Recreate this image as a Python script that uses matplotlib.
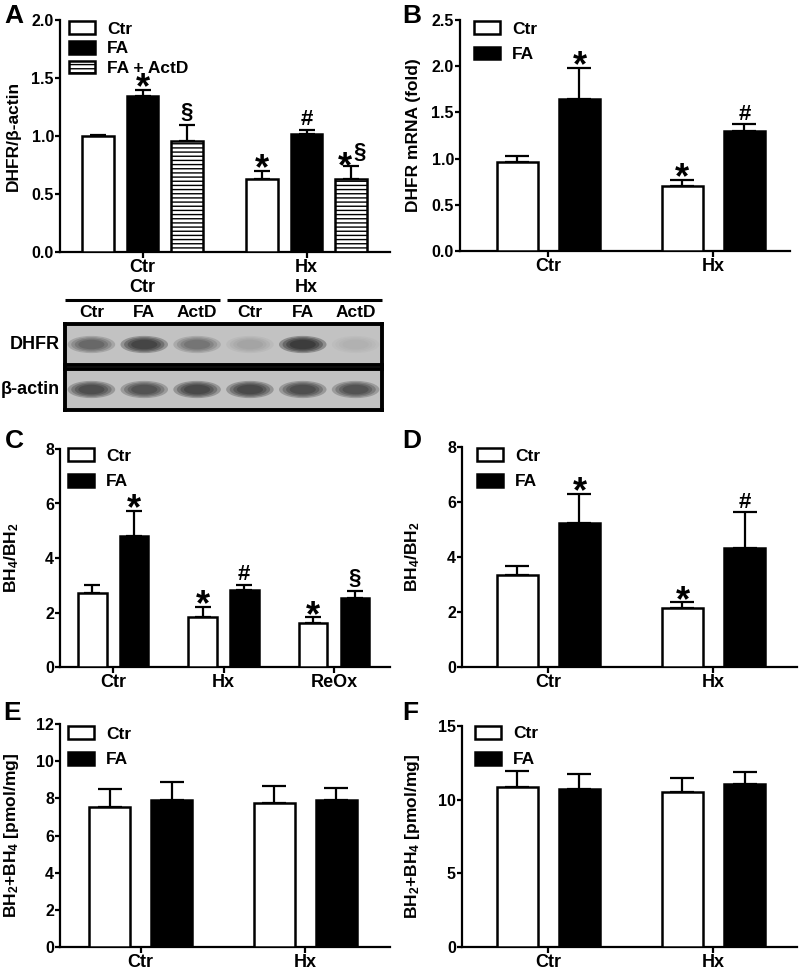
import matplotlib.pyplot as plt
from matplotlib.patches import Patch, Ellipse
from matplotlib.transforms import blended_transform_factory
import numpy as np

plt.rcParams['font.family'] = ['Liberation Sans', 'DejaVu Sans']
plt.rcParams['font.weight'] = 'bold'
plt.rcParams['axes.labelweight'] = 'bold'
plt.rcParams['mathtext.fontset'] = 'custom'
plt.rcParams['mathtext.rm'] = 'Liberation Sans:bold'
plt.rcParams['mathtext.default'] = 'rm'
plt.rcParams['hatch.linewidth'] = 1.0
plt.rcParams['axes.linewidth'] = 1.6

W, H = 800, 972

# --- A: DHFR protein (western blot densitometry)
a_groups = ['Ctr\nCtr', 'Hx\nHx']
a_ctr = [1.00, 0.63]
a_ctr_err = [0.01, 0.07]
a_fa = [1.345, 1.015]
a_fa_err = [0.055, 0.035]
a_actd = [0.96, 0.63]
a_actd_err = [0.135, 0.11]
a_ctr_sig = ['', '*']
a_fa_sig = ['*', '#']
a_actd_sig = ['§', '*§']

# blot lanes
lanes = ['Ctr', 'FA', 'ActD', 'Ctr', 'FA', 'ActD']
dhfr_band = [0.55, 0.9, 0.45, 0.15, 1.0, 0.08]
actin_band = [0.8, 0.75, 0.85, 0.85, 0.8, 0.75]

# --- B: DHFR mRNA
b_groups = ['Ctr', 'Hx']
b_ctr = [0.965, 0.70]
b_ctr_err = [0.065, 0.07]
b_fa = [1.64, 1.30]
b_fa_err = [0.34, 0.07]
b_ctr_sig = ['', '*']
b_fa_sig = ['*', '#']

# --- C: BH4/BH2 (Ctr, Hx, ReOx)
c_groups = ['Ctr', 'Hx', 'ReOx']
c_ctr = [2.70, 1.84, 1.62]
c_ctr_err = [0.30, 0.37, 0.20]
c_fa = [4.79, 2.82, 2.54]
c_fa_err = [0.95, 0.18, 0.25]
c_ctr_sig = ['', '*', '*']
c_fa_sig = ['*', '#', '§']

# --- D: BH4/BH2
d_groups = ['Ctr', 'Hx']
d_ctr = [3.36, 2.15]
d_ctr_err = [0.30, 0.20]
d_fa = [5.24, 4.33]
d_fa_err = [1.06, 1.29]
d_ctr_sig = ['', '*']
d_fa_sig = ['*', '#']

# --- E / F: total biopterin
e_groups = ['Ctr', 'Hx']
e_ctr = [7.52, 7.73]
e_ctr_err = [0.97, 0.96]
e_fa = [7.91, 7.91]
e_fa_err = [0.96, 0.63]

f_groups = ['Ctr', 'Hx']
f_ctr = [10.84, 10.54]
f_ctr_err = [1.09, 0.91]
f_fa = [10.73, 11.07]
f_fa_err = [0.99, 0.81]

fig = plt.figure(figsize=(8, 9.72), dpi=100)


def px_axes(l, r, t, b):
    return fig.add_axes([l / W, 1 - b / H, (r - l) / W, (b - t) / H])


def sig_text(ax, x, top, s, dx=0, dy=0):
    # marker sits a few pixels above the error cap
    if s == '*':
        ax.annotate(s, (x, top), xytext=(dx, -6.0 + dy), textcoords='offset points',
                    ha='center', va='baseline', fontsize=26)
    elif s:
        ax.annotate(s, (x, top), xytext=(dx, (5.0 if s == '§' else 3.5) + dy),
                    textcoords='offset points', ha='center', va='baseline', fontsize=16)


def bar_panel(ax, groups, series, offsets, width, ymax, step, xlim, capsize):
    x = np.arange(len(groups))
    for (vals, errs, sigs, face, hatch), off in zip(series, offsets):
        ax.errorbar(x + off, vals, yerr=[np.zeros(len(vals)), errs], fmt='none',
                    ecolor='black', elinewidth=1.6, capsize=capsize, capthick=1.6, zorder=2)
        ax.bar(x + off, vals, width, color=face, edgecolor='black', linewidth=1.8,
               hatch=hatch, zorder=3)
        for xi, v, e, s in zip(x + off, vals, errs, sigs):
            if s == '*§':
                sig_text(ax, xi, v + e, '*', dx=-4, dy=-2)
                sig_text(ax, xi, v + e, '§', dx=6, dy=1)
            else:
                sig_text(ax, xi, v + e, s)
    ax.set_xlim(*xlim)
    ax.set_ylim(0, ymax)
    ax.set_yticks(np.arange(0, ymax + step / 2, step))
    ax.set_xticks(x)
    ax.set_xticklabels(groups, fontsize=13, linespacing=1.2)
    ax.spines['top'].set_visible(False)
    ax.spines['right'].set_visible(False)
    ax.tick_params(axis='y', direction='out', length=3.6, width=1.6, pad=0.8, labelsize=11.5)
    ax.tick_params(axis='x', direction='out', length=4.5, width=1.6, pad=0.5)


def legend(ax, labels, faces, hatches, anchor, spacing):
    handles = [Patch(facecolor=f, edgecolor='black', linewidth=1.8, hatch=h)
               for f, h in zip(faces, hatches)]
    ax.legend(handles, labels, loc='upper left', bbox_to_anchor=anchor, frameon=False,
              fontsize=12.5, handlelength=1.5, handleheight=0.75, handletextpad=0.7,
              labelspacing=spacing, borderpad=0, borderaxespad=0)


# panel A
axA = px_axes(60, 390, 20, 252)
bar_panel(axA, a_groups,
          [(a_ctr, a_ctr_err, a_ctr_sig, 'white', None),
           (a_fa, a_fa_err, a_fa_sig, 'black', None),
           (a_actd, a_actd_err, a_actd_sig, 'white', '----')],
          [-0.271, 0, 0.271], 0.19, 2.0, 0.5, (-0.503, 1.509), 6.1)
axA.set_yticklabels(['0.0', '0.5', '1.0', '1.5', '2.0'])
axA.set_ylabel('DHFR/β-actin', fontsize=12.5)
axA.yaxis.set_label_coords(-0.118, 0.5)
legend(axA, ['Ctr', 'FA', 'FA + ActD'], ['white', 'black', 'white'], [None, None, '----'],
       (0.027, 0.995), 0.25)

# western blot
blot_rows = [('DHFR', dhfr_band, 324, 365), ('β-actin', actin_band, 369, 410)]
for name, bands, t, b in blot_rows:
    axb = px_axes(65, 382, t, b)
    axb.set_facecolor('#c2c2c2')
    axb.set_xlim(-0.5, len(lanes) - 0.5)
    axb.set_ylim(0, 1)
    axb.set_xticks([])
    axb.set_yticks([])
    for sp in axb.spines.values():
        sp.set_linewidth(2.8)
    for i, inten in enumerate(bands):
        for k in [1.0, 0.85, 0.7, 0.55]:
            axb.add_patch(Ellipse((i, 0.5), 0.9 * k, 0.42 * k, facecolor='#151515',
                                  edgecolor='none', alpha=0.3 * inten))
    axb.text(-0.016, 0.5, name, transform=axb.transAxes, ha='right', va='center',
             fontsize=13)
    if name == 'DHFR':
        tr = blended_transform_factory(axb.transData, axb.transAxes)
        for i, lab in enumerate(lanes):
            axb.text(i, 1.27, lab, transform=tr, ha='center', va='center', fontsize=12.5)
        axb.plot([-0.5, 2.44], [1.585, 1.585], color='black', lw=2.2, transform=tr,
                 clip_on=False, solid_capstyle='butt')
        axb.plot([2.56, 5.5], [1.585, 1.585], color='black', lw=2.2, transform=tr,
                 clip_on=False, solid_capstyle='butt')

# panel B
axB = px_axes(460, 790, 20, 251)
bar_panel(axB, b_groups,
          [(b_ctr, b_ctr_err, b_ctr_sig, 'white', None),
           (b_fa, b_fa_err, b_fa_sig, 'black', None)],
          [-0.188, 0.188], 0.25, 2.5, 0.5, (-0.536, 1.464), 8.6)
axB.set_yticklabels(['0.0', '0.5', '1.0', '1.5', '2.0', '2.5'])
axB.set_ylabel('DHFR mRNA (fold)', fontsize=12.5)
axB.yaxis.set_label_coords(-0.118, 0.5)
legend(axB, ['Ctr', 'FA'], ['white', 'black'], [None, None], (0.042, 0.995), 0.58)

# panel C
axC = px_axes(60, 390, 449, 667)
bar_panel(axC, c_groups,
          [(c_ctr, c_ctr_err, c_ctr_sig, 'white', None),
           (c_fa, c_fa_err, c_fa_sig, 'black', None)],
          [-0.188, 0.188], 0.258, 8, 2, (-0.48, 2.507), 6.1)
axC.set_ylabel(r'BH$_4$/BH$_2$', fontsize=12.5)
axC.yaxis.set_label_coords(-0.118, 0.5)
legend(axC, ['Ctr', 'FA'], ['white', 'black'], [None, None], (0.024, 1.003), 0.58)

# panel D
axD = px_axes(462, 797, 447, 667)
bar_panel(axD, d_groups,
          [(d_ctr, d_ctr_err, d_ctr_sig, 'white', None),
           (d_fa, d_fa_err, d_fa_sig, 'black', None)],
          [-0.188, 0.188], 0.25, 8, 2, (-0.524, 1.506), 8.6)
axD.set_ylabel(r'BH$_4$/BH$_2$', fontsize=12.5)
axD.yaxis.set_label_coords(-0.118, 0.5)
legend(axD, ['Ctr', 'FA'], ['white', 'black'], [None, None], (0.045, 0.995), 0.6)

# panel E
axE = px_axes(60, 390, 724, 947)
bar_panel(axE, e_groups,
          [(e_ctr, e_ctr_err, ['', ''], 'white', None),
           (e_fa, e_fa_err, ['', ''], 'black', None)],
          [-0.188, 0.188], 0.25, 12, 2, (-0.49, 1.514), 8.6)
axE.set_ylabel(r'BH$_2$+BH$_4$ [pmol/mg]', fontsize=12.5)
axE.yaxis.set_label_coords(-0.118, 0.5)
legend(axE, ['Ctr', 'FA'], ['white', 'black'], [None, None], (0.024, 0.99), 0.6)

# panel F
axF = px_axes(462, 797, 726, 947)
bar_panel(axF, f_groups,
          [(f_ctr, f_ctr_err, ['', ''], 'white', None),
           (f_fa, f_fa_err, ['', ''], 'black', None)],
          [-0.188, 0.188], 0.25, 15, 5, (-0.524, 1.506), 8.6)
axF.set_ylabel(r'BH$_2$+BH$_4$ [pmol/mg]', fontsize=12.5)
axF.yaxis.set_label_coords(-0.118, 0.5)
legend(axF, ['Ctr', 'FA'], ['white', 'black'], [None, None], (0.039, 1.0), 0.6)

# panel letters
for letter, x, y in [('A', 4, 4), ('B', 402, 4), ('C', 5, 429), ('D', 402, 429),
                     ('E', 3, 701), ('F', 402, 701)]:
    fig.text(x / W, 1 - y / H, letter, ha='left', va='top', fontsize=19)

plt.savefig('out.png', dpi=100)
